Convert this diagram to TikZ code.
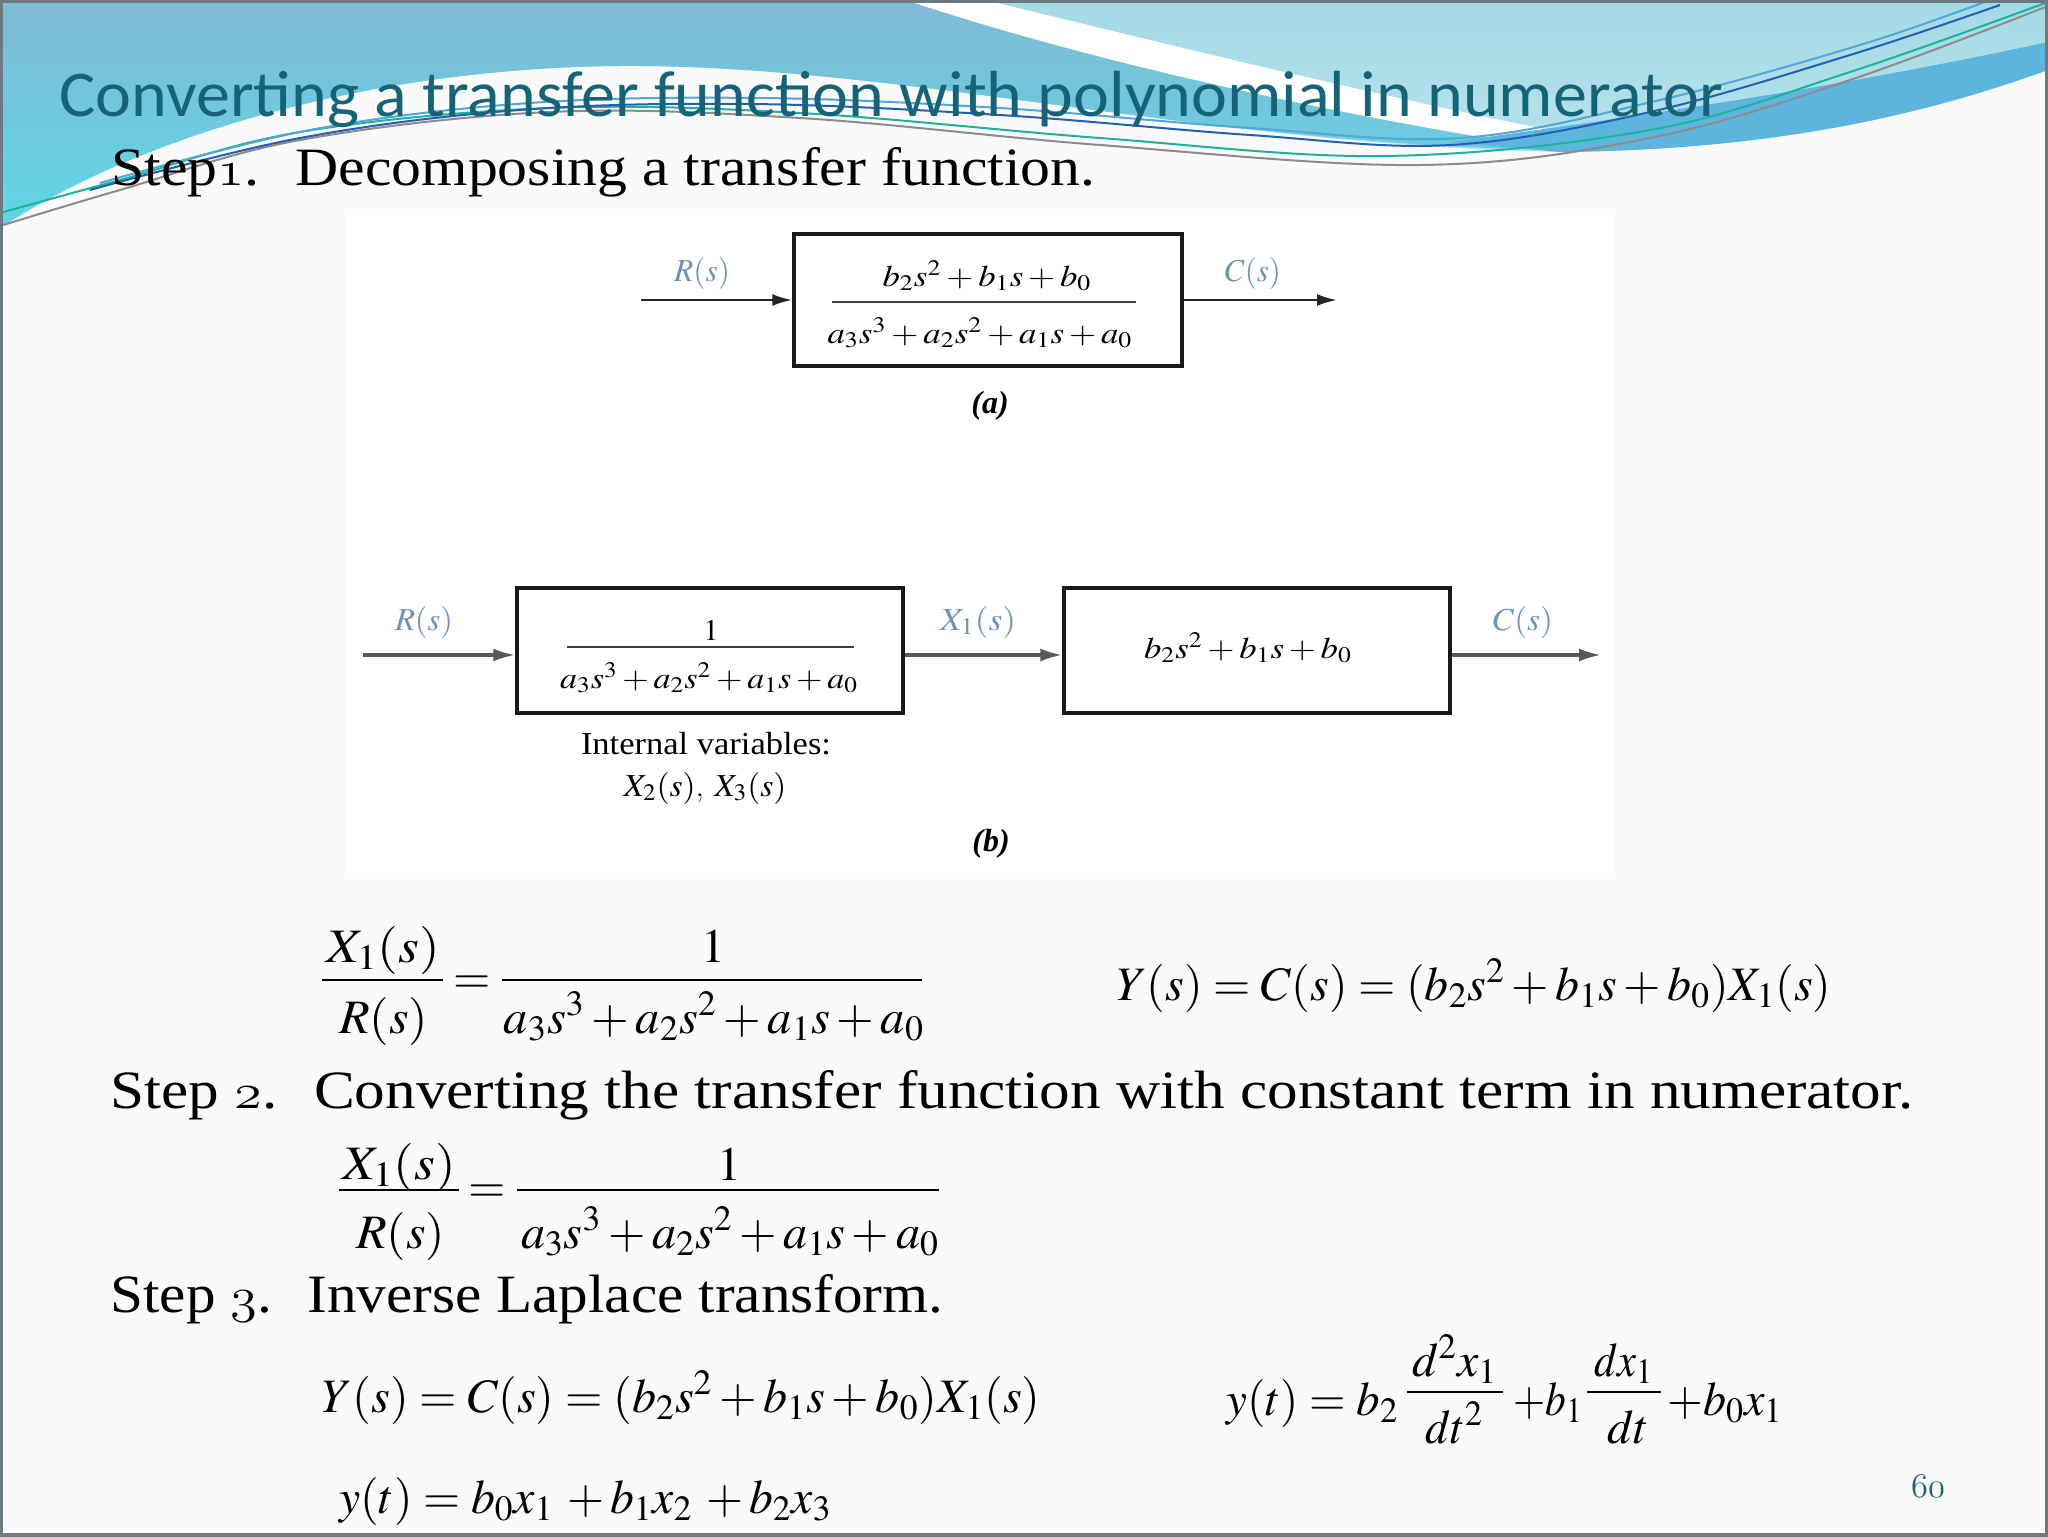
\documentclass[tikz,border=0pt]{standalone}
\usepackage{mathptmx}
\usepackage[no-math]{fontspec}
\renewcommand{\rmdefault}{lmr}
\newfontfamily\carlito{Carlito}
\newfontfamily\tnr{Liberation Serif}
\usetikzlibrary{arrows.meta}
\newcommand{\osn}[1]{{\usefont{OML}{lmm}{m}{it}#1}}
\newcommand{\fw}[2]{\resizebox{#1}{\height}{#2}}
\definecolor{slidebg}{HTML}{FAFAFB}
\definecolor{titlec}{HTML}{166378}
\definecolor{lblc}{HTML}{6F93B8}
\definecolor{blueT}{HTML}{80BAD5}
\definecolor{blueM}{HTML}{7CC6DD}
\definecolor{blueB}{HTML}{5FD6E6}
\definecolor{cyanT}{HTML}{A4DAE6}
\definecolor{cyanB}{HTML}{BDE6EE}
\definecolor{streak}{HTML}{5DB4DD}
\definecolor{lgreen}{HTML}{1DB39A}
\definecolor{lgray}{HTML}{8C8C8C}
\definecolor{ldblue}{HTML}{2360B5}
\definecolor{llblue}{HTML}{4FA8D8}
\definecolor{borderc}{HTML}{6A7A80}
\tikzset{
  eq/.style={inner sep=0pt, font=\fontsize{24}{28}\selectfont},
  fbar/.style={line width=0.9pt, draw=black},
  dbar/.style={line width=0.8pt, draw=black!75},
  blk/.style={draw=black!90, line width=1.7pt, inner sep=0pt, fill=white},
  arr/.style={line width=1.3pt, draw=black!85, -{Latex[length=10pt,width=6pt]}},
  arrb/.style={line width=1.6pt, draw=black!65, -{Latex[length=11pt,width=6.5pt]}},
  sig/.style={inner sep=0pt, text=lblc, font=\fontsize{16}{18}\selectfont},
  dtext/.style={inner sep=0pt, font=\fontsize{15}{17}\selectfont},
  steptext/.style={inner sep=0pt, anchor=base west, font=\tnr\fontsize{27}{32}\selectfont},
  wline/.style={line width=1pt}
}
\begin{document}
\begin{tikzpicture}[x=0.5pt,y=-0.5pt]
\useasboundingbox (0,0) rectangle (2048,1536);
\fill[slidebg] (0,0) rectangle (2048,1536);
% ---- header decoration
\shade[top color=cyanT, bottom color=cyanB] (0,0) -- (2048,0) -- (2048,70)
  .. controls (1950,105) and (1800,150) .. (1560,152)
  .. controls (1200,145) and (900,64) .. (620,66)
  .. controls (380,68) and (150,130) .. (0,228) -- cycle;
\fill[white] (905,0) -- (985,0) .. controls (1150,40) and (1380,97) .. (1560,132)
  -- (1560,150) .. controls (1350,118) and (1100,65) .. (905,0) -- cycle;
\shade[top color=blueT, middle color=blueM, bottom color=blueB] (0,0) -- (905,0)
  .. controls (1100,65) and (1350,118) .. (1560,150)
  .. controls (1200,145) and (900,64) .. (620,66)
  .. controls (380,68) and (150,130) .. (0,228) -- cycle;
\fill[streak] (1450,142) .. controls (1650,115) and (1850,85) .. (2048,42)
  -- (2048,70) .. controls (1950,105) and (1800,150) .. (1560,152) -- cycle;
\draw[wline, lgray] plot[smooth, tension=0.6] coordinates {(0,226) (120,190) (300,140) (550,112) (800,118) (1100,145) (1420,165) (1650,138) (1850,80) (2048,6)};
\draw[wline, lgreen] plot[smooth, tension=0.6] coordinates {(0,213) (120,180) (300,132) (550,108) (800,113) (1100,138) (1385,156) (1650,130) (1850,72) (2048,2)};
\draw[wline, ldblue] plot[smooth, tension=0.6] coordinates {(90,190) (300,138) (520,110) (750,104) (1000,115) (1250,135) (1450,145) (1650,112) (1850,55) (2000,5)};
\draw[wline, llblue] plot[smooth, tension=0.6] coordinates {(100,183) (310,130) (530,103) (760,98) (1000,108) (1250,128) (1460,138) (1660,100) (1860,45) (1990,0)};
% ---- title and step lines
\node[inner sep=0pt, anchor=base west, text=titlec] (title) at (59,117)
  {\carlito\fontsize{32.6}{36}\selectfont\fw{832pt}{Converting a transfer function with polynomial in numerator}};
\node[steptext] (step1) at (111,185) {\fw{492pt}{Step\osn{1}.\hspace{0.6em}Decomposing a transfer function.}};
\node[steptext] (step2) at (110,1108) {\fw{901.5pt}{Step \osn{2}.\hspace{0.6em}Converting the transfer function with constant term in numerator.}};
\node[steptext] (step3) at (110,1312) {\fw{416.5pt}{Step \osn{3}.\hspace{0.6em}Inverse Laplace transform.}};
% ---- figure area
\fill[white] (347,215) rectangle (1613,873);
% diagram (a)
\node[blk, minimum width=194pt, minimum height=66pt] (boxa) at (988,300) {};
\draw[dbar] (832,302) -- (1136,302);
\node[dtext, anchor=base] (numa) at (987,286) {\fw{104.5pt}{$b_2s^2+b_1s+b_0$}};
\node[dtext, anchor=base] (dena) at (980,343) {\fw{152.5pt}{$a_3s^3+a_2s^2+a_1s+a_0$}};
\node[sig] (Ra) at (702,273) {\fw{28pt}{$R(s)$}};
\node[sig] (Ca) at (1253,273) {\fw{28pt}{$C(s)$}};
\coordinate (ina) at (641,300);
\coordinate (outa) at (1337,300);
\draw[arr] (ina) -- (boxa.west);
\draw[arr] (boxa.east) -- (outa);
\node[inner sep=0pt] (capa) at (990,406) {\fontsize{16}{18}\selectfont\tnr\bfseries\itshape (a)};
% diagram (b)
\node[blk, minimum width=193pt, minimum height=62.5pt] (b1) at (710,650.5) {};
\node[blk, minimum width=193pt, minimum height=62.5pt] (b2) at (1257,650.5) {};
\draw[dbar] (567,647) -- (854,647);
\node[dtext, anchor=base] (oneb) at (711,640) {$1$};
\node[dtext, anchor=base] (denb) at (709,688) {\fw{149pt}{$a_3s^3+a_2s^2+a_1s+a_0$}};
\node[dtext, anchor=base] (numb) at (1248,658) {\fw{104pt}{$b_2s^2+b_1s+b_0$}};
\coordinate (inb) at (363,655);
\coordinate (outb) at (1601,655);
\draw[arrb] (inb) -- (inb -| b1.west);
\draw[arrb] (b1.east |- inb) -- (b2.west |- inb);
\draw[arrb] (b2.east |- inb) -- (outb);
\node[sig] (Rb) at (424,622) {\fw{29pt}{$R(s)$}};
\node[sig] (Xb) at (978,622) {\fw{38pt}{$X_1(s)$}};
\node[sig] (Cb) at (1523,622) {\fw{30pt}{$C(s)$}};
\node[inner sep=0pt, font=\fontsize{16}{18}\selectfont] (iv) at (706,744) {\fw{125pt}{\tnr Internal variables:}};
\node[inner sep=0pt, font=\fontsize{16}{18}\selectfont] (x23) at (705,788) {\fw{81.5pt}{$X_2(s)$, $X_3(s)$}};
\node[inner sep=0pt] (capb) at (991,844) {\fontsize{16}{18}\selectfont\tnr\bfseries\itshape (b)};
% ---- equations row 1
\node[eq, anchor=base] (e1n) at (383,962) {\fw{57pt}{$X_1(s)$}};
\draw[fbar] (322,980) -- (443,980);
\node[eq, anchor=base] (e1d) at (383.5,1033) {\fw{44.5pt}{$R(s)$}};
\node[eq, anchor=base] (e1eq) at (472,993) {$=$};
\node[eq, anchor=base] (e1one) at (713,962) {$1$};
\draw[fbar] (502,980) -- (922,980);
\node[eq, anchor=base] (e1den) at (714,1033) {\fw{210pt}{$a_3s^3+a_2s^2+a_1s+a_0$}};
\node[eq, anchor=base west] (e1r) at (1116,1000) {\fw{357.5pt}{$Y(s)=C(s)=(b_2s^2+b_1s+b_0)X_1(s)$}};
% ---- step 2 equation
\node[eq, anchor=base] (e2n) at (399,1179) {\fw{57pt}{$X_1(s)$}};
\draw[fbar] (339,1190) -- (459,1190);
\node[eq, anchor=base] (e2d) at (400.5,1248) {\fw{44.5pt}{$R(s)$}};
\node[eq, anchor=base] (e2eq) at (487.5,1202) {$=$};
\node[eq, anchor=base] (e2one) at (729,1180) {$1$};
\draw[fbar] (517,1190) -- (939,1190);
\node[eq, anchor=base] (e2den) at (730,1248) {\fw{209pt}{$a_3s^3+a_2s^2+a_1s+a_0$}};
% ---- step 3 equations
\node[eq, anchor=base west] (e3l) at (322,1412) {\fw{359pt}{$Y(s)=C(s)=(b_2s^2+b_1s+b_0)X_1(s)$}};
\node[eq, anchor=base west] (e3a) at (1226,1415) {\fw{86pt}{$y(t)=b_2$}};
\draw[fbar] (1407,1392) -- (1503,1392);
\node[eq, anchor=base] (e3n1) at (1454.5,1376) {\fw{42.5pt}{$d^2x_1$}};
\node[eq, anchor=base] (e3d1) at (1454,1443) {\fw{29pt}{$dt^2$}};
\node[eq, anchor=base west] (e3b) at (1513,1415) {\fw{34.5pt}{$+b_1$}};
\draw[fbar] (1587,1392) -- (1661,1392);
\node[eq, anchor=base] (e3n2) at (1623.5,1376) {\fw{29.5pt}{$dx_1$}};
\node[eq, anchor=base] (e3d2) at (1628,1443) {\fw{21pt}{$dt$}};
\node[eq, anchor=base west] (e3c) at (1667,1415) {\fw{57.5pt}{$+b_0x_1$}};
\node[eq, anchor=base west] (e4) at (339,1513) {\fw{246pt}{$y(t)=b_0x_1\ {+}\,b_1x_2\ {+}\,b_2x_3$}};
% ---- page number and border
\node[inner sep=0pt, anchor=base, text=titlec] (pnum) at (1928,1497) {\fontsize{19}{22}\selectfont\osn{60}};
\draw[borderc, line width=2pt] (1,1) rectangle (2047,1535);
\end{tikzpicture}
\end{document}
